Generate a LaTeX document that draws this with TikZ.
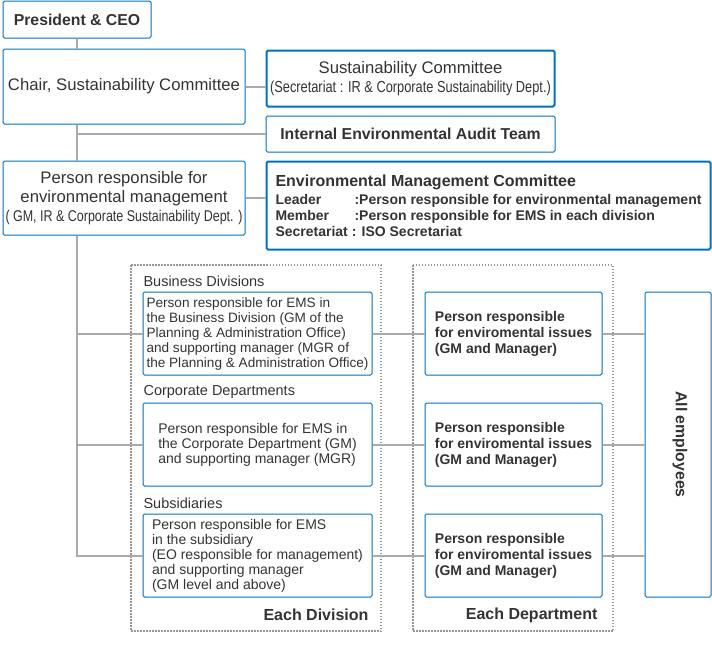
\documentclass[tikz,border=0pt]{standalone}
\usepackage{fontspec}
\setmainfont{Liberation Sans}
\newfontfamily\narrowfont[FakeStretch=0.8]{Liberation Sans}
\definecolor{boxblue}{RGB}{0,112,192}
\definecolor{linegray}{RGB}{170,170,170}
\definecolor{dotgray}{RGB}{150,150,150}
\definecolor{txt}{RGB}{51,51,51}
\begin{document}
\begin{tikzpicture}[x=1pt,y=-1pt,
		every node/.style={text=txt},
		box/.style={draw=boxblue,line width=1pt,rounded corners=1.5pt,inner sep=0pt},
		heavybox/.style={box,line width=2pt},
		link/.style={draw=linegray,line width=2pt},
		grp/.style={draw=dotgray,line width=1.5pt,dash pattern=on 1.5pt off 1.5pt},
		reg/.style={font=\fontsize{16.7}{19}\selectfont},
		bld/.style={font=\fontsize{15.8}{19}\selectfont\bfseries},
		divtext/.style={font=\fontsize{14}{15}\selectfont,align=left},
		deptext/.style={font=\fontsize{14}{16}\selectfont\bfseries,align=left},
		grouplabel/.style={font=\fontsize{14.5}{17}\selectfont,anchor=west}]
		\useasboundingbox (0,0) rectangle (712,665);
		\draw[grp] (131,265) rectangle (381,631);
		\draw[grp] (413,265) rectangle (613,631);
		\node[box,bld,minimum width=148pt,minimum height=37pt] (ceo) at (77,19.5) {President \& CEO};
		\node[box,reg,minimum width=242pt,minimum height=75pt] (chair) at (124,86.5) {Chair, Sustainability Committee};
		\node[heavybox,minimum width=288pt,minimum height=56pt,align=center,font=\fontsize{16}{19}\selectfont] (sc) at (410.5,78.5)
		{{\fontsize{16.7}{19}\selectfont Sustainability Committee}\\{\narrowfont(Secretariat : IR \& Corporate Sustainability Dept.)}};
		\node[box,bld,minimum width=289pt,minimum height=36pt] (audit) at (410.5,134) {Internal Environmental Audit Team};
		\node[heavybox,minimum width=444pt,minimum height=88pt,align=left,font=\fontsize{14}{16}\selectfont\bfseries] (emc) at (488.5,205.5)
		{{\fontsize{16}{19}\selectfont Environmental Management Committee}\\[2pt]
		\makebox[79pt][l]{Leader}:Person responsible for environmental management\\
		\makebox[79pt][l]{Member}:Person responsible for EMS in each division\\
		Secretariat : ISO Secretariat};
		\node[box,minimum width=242pt,minimum height=74pt,align=center,font=\fontsize{16.7}{19}\selectfont] (resp) at (124,198)
		{Person responsible for\\environmental management\\{\narrowfont\fontsize{15.6}{19}\selectfont( GM, IR \& Corporate Sustainability Dept. )}};
		\node[grouplabel] (bdlabel) at (140,281) {Business Divisions};
		\node[grouplabel] (cdlabel) at (140,392) {Corporate Departments};
		\node[grouplabel] (sublabel) at (140,503) {Subsidiaries};
		\node[box,divtext,font=\fontsize{13.6}{15}\selectfont,minimum width=229pt,minimum height=83pt] (bd) at (257.5,333.5)
		{Person responsible for EMS in\\the Business Division (GM of the\\Planning \& Administration Office)\\and supporting manager (MGR of\\the Planning \& Administration Office)};
		\node[box,divtext,minimum width=229pt,minimum height=83pt] (cd) at (257.5,444.5)
		{Person responsible for EMS in\\the Corporate Department (GM)\\and supporting manager (MGR)};
		\node[box,divtext,minimum width=229pt,minimum height=83pt] (sub) at (257.5,555.5)
		{Person responsible for EMS\\in the subsidiary\\(EO responsible for management)\\and supporting manager\\(GM level and above)};
		\node[box,deptext,minimum width=177pt,minimum height=83pt] (dp1) at (513.5,333.5)
		{Person responsible\\for enviromental issues\\(GM and Manager)};
		\node[box,deptext,minimum width=177pt,minimum height=83pt] (dp2) at (513.5,444.5)
		{Person responsible\\for enviromental issues\\(GM and Manager)};
		\node[box,deptext,minimum width=177pt,minimum height=83pt] (dp3) at (513.5,555.5)
		{Person responsible\\for enviromental issues\\(GM and Manager)};
		\node[box,minimum width=66pt,minimum height=305pt] (allemp) at (678,444.5) {};
		\node[bld,rotate=-90] (allemptext) at (680,444.5) {All employees};
		\node[anchor=east,font=\fontsize{16}{19}\selectfont\bfseries] (eachdiv) at (372,615) {Each Division};
		\node[anchor=east,font=\fontsize{16}{19}\selectfont\bfseries] (eachdept) at (601,615) {Each Department};
		\draw[link] (ceo.south) -- (ceo.south |- chair.north);
		\draw[link] (ceo.south |- chair.south) -- (ceo.south |- resp.north);
		\draw[link] (ceo.south |- audit.west) -- (audit.west);
		\draw[link] (chair.east) -- (chair.east -| sc.west);
		\draw[link] (resp.east) -- (resp.east -| emc.west);
		\draw[link] (ceo.south |- resp.south) -- (ceo.south |- sub.west) -- (sub.west);
		\draw[link] (ceo.south |- bd.west) -- (bd.west);
		\draw[link] (ceo.south |- cd.west) -- (cd.west);
		\draw[link] (bd.east) -- (dp1.west);
		\draw[link] (cd.east) -- (dp2.west);
		\draw[link] (sub.east) -- (dp3.west);
		\draw[link] (dp1.east) -- (dp1.east -| allemp.west);
		\draw[link] (dp2.east) -- (dp2.east -| allemp.west);
		\draw[link] (dp3.east) -- (dp3.east -| allemp.west);
\end{tikzpicture}
\end{document}
